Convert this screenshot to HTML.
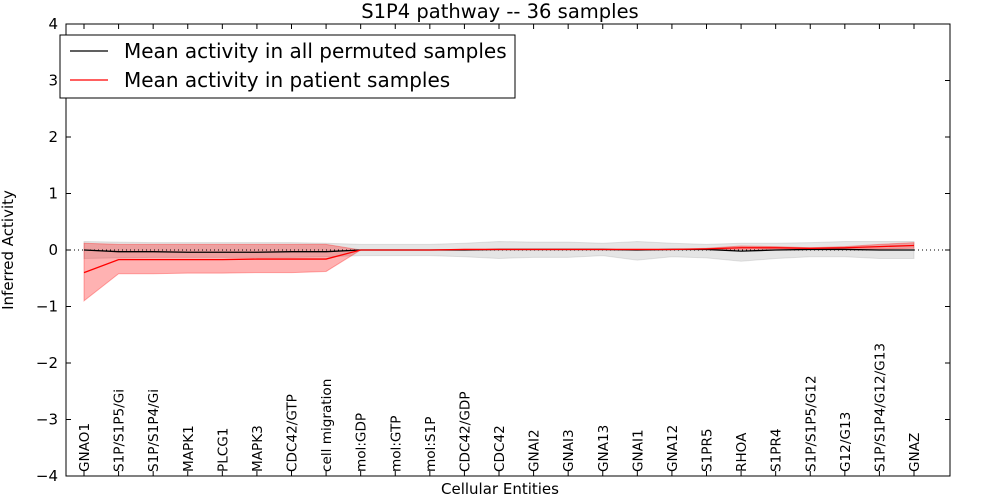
<!DOCTYPE html>
<html><head><meta charset="utf-8"><style>
body{margin:0;background:#fff;font-family:"DejaVu Sans",sans-serif;}
svg text{font-family:"DejaVu Sans",sans-serif;}
</style></head><body>
<svg id="chart" width="1000" height="500"></svg>
<script>
const categories=["GNAO1","S1P/S1P5/Gi","S1P/S1P4/Gi","MAPK1","PLCG1","MAPK3","CDC42/GTP","cell migration","mol:GDP","mol:GTP","mol:S1P","CDC42/GDP","CDC42","GNAI2","GNAI3","GNA13","GNAI1","GNA12","S1PR5","RHOA","S1PR4","S1P/S1P5/G12","G12/G13","S1P/S1P4/G12/G13","GNAZ"];
const permMean=[0,-0.03,-0.03,-0.04,-0.04,-0.04,-0.03,-0.03,0,0,0,0,0.01,0.01,0.01,0.01,0,0.01,0.01,-0.02,0,0.01,0.01,0,0];
const permUpper=[0.15,0.14,0.13,0.13,0.13,0.13,0.13,0.12,0.1,0.1,0.1,0.12,0.15,0.14,0.14,0.12,0.15,0.12,0.1,0.12,0.12,0.13,0.15,0.15,0.15];
const permLower=[-0.15,-0.14,-0.13,-0.13,-0.13,-0.13,-0.13,-0.12,-0.1,-0.1,-0.1,-0.12,-0.15,-0.13,-0.13,-0.1,-0.18,-0.12,-0.14,-0.2,-0.15,-0.12,-0.12,-0.15,-0.15];
const patMean=[-0.4,-0.17,-0.17,-0.17,-0.17,-0.16,-0.16,-0.16,0,0,0,0.01,0.01,0.01,0.01,0.01,0.01,0.01,0.02,0.04,0.04,0.03,0.04,0.06,0.08];
const patUpper=[0.12,0.1,0.1,0.1,0.1,0.1,0.1,0.1,0,0,0,0.01,0.01,0.01,0.01,0.01,0.01,0.01,0.03,0.07,0.06,0.04,0.06,0.1,0.13];
const patLower=[-0.9,-0.42,-0.42,-0.41,-0.41,-0.4,-0.4,-0.38,0,0,0,0.01,0.01,0.01,0.01,0.01,0.01,0.01,0.01,0.01,0.02,0.02,0.02,0.02,0.03];
const yTicks=[4,3,2,1,0,-1,-2,-3,-4];
const NS="http://www.w3.org/2000/svg";
const svg=document.getElementById("chart");
const L=66,R=950,T=24,B=476,x0=84,x1=914;
const xs=i=>x0+(x1-x0)*i/(categories.length-1);
const ys=v=>T+(4-v)*(B-T)/8;
function el(t,a,p){const e=document.createElementNS(NS,t);for(const k in a)e.setAttribute(k,a[k]);(p||svg).appendChild(e);return e;}
function band(up,lo,fill,op,name){
 let d="M"+up.map((v,i)=>xs(i)+","+ys(v)).join("L")+"L"+lo.map((v,i)=>xs(i)+","+ys(v)).reverse().join("L")+"Z";
 const p=el("path",{d:d,fill:fill,"fill-opacity":op,stroke:fill,"stroke-opacity":op});
 
 
}
function line(arr,color,name){
 const p=el("polyline",{points:arr.map((v,i)=>xs(i)+","+ys(v)).join(" "),fill:"none",stroke:color,"stroke-width":1.3});
 
 
}
band(permUpper,permLower,"#999",0.25,"permuted-band");
band(patUpper,patLower,"#f00",0.3,"patient-band");
const z=el("line",{x1:L,x2:R,y1:ys(0),y2:ys(0),stroke:"#000","stroke-dasharray":"1,3"});


line(permMean,"#000","permuted-mean-line");
line(patMean,"#f00","patient-mean-line");
const fr=el("rect",{x:L,y:T,width:R-L,height:B-T,fill:"none",stroke:"#000"});


yTicks.forEach(v=>{
 el("line",{x1:L,x2:L+5,y1:ys(v),y2:ys(v),stroke:"#000"});
 el("line",{x1:R-5,x2:R,y1:ys(v),y2:ys(v),stroke:"#000"});
 const t=el("text",{x:L-8,y:ys(v)+5,"text-anchor":"end","font-size":15});
 t.textContent=(v<0?"\u2212"+(-v):v);
 
 
});
categories.forEach((c,i)=>{
 el("line",{x1:xs(i),x2:xs(i),y1:B,y2:B-5,stroke:"#000"});
 el("line",{x1:xs(i),x2:xs(i),y1:T,y2:T+5,stroke:"#000"});
 const t=el("text",{transform:`translate(${xs(i)+5},472) rotate(-90)`,"font-size":13.6});
 t.textContent=c;
 
 
});
const tt=el("text",{x:500,y:18,"text-anchor":"middle","font-size":19.5});tt.textContent="S1P4 pathway -- 36 samples";


const xt=el("text",{x:500,y:494,"text-anchor":"middle","font-size":15});xt.textContent="Cellular Entities";


const yt=el("text",{transform:"translate(13,250) rotate(-90)","text-anchor":"middle","font-size":15});yt.textContent="Inferred Activity";


const lg=el("g",{});


el("rect",{x:60,y:35,width:455,height:63,fill:"#fff",stroke:"#000"},lg);
el("line",{x1:70,x2:108,y1:51,y2:51,stroke:"#000","stroke-width":1.3},lg);
el("line",{x1:70,x2:108,y1:80,y2:80,stroke:"#f00","stroke-width":1.3},lg);
const l1=el("text",{x:124,y:58,"font-size":20},lg);l1.textContent="Mean activity in all permuted samples";


const l2=el("text",{x:124,y:87,"font-size":20},lg);l2.textContent="Mean activity in patient samples";


</script>
</body></html>
